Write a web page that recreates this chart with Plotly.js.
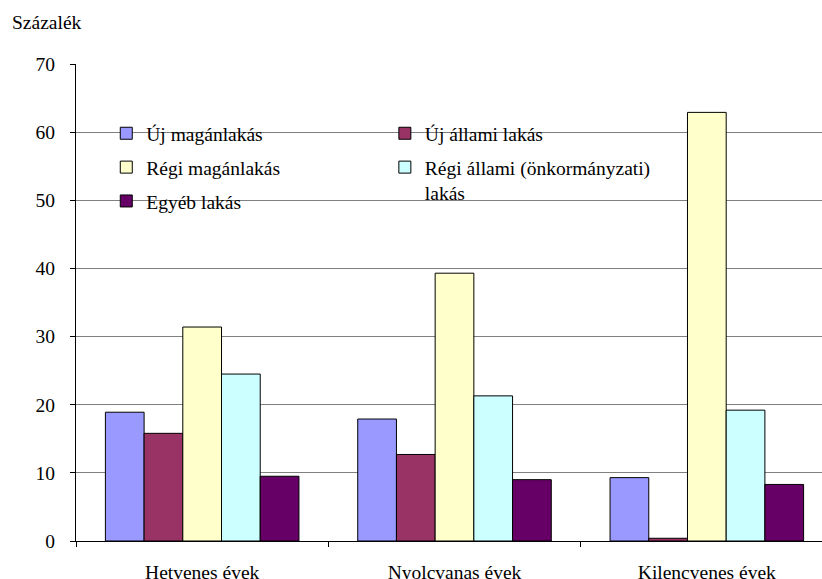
<!DOCTYPE html>
<html>
<head>
<meta charset="utf-8">
<script src="https://cdn.plot.ly/plotly-3.0.1.min.js"></script>
<style>
html,body{margin:0;padding:0;overflow:hidden;background:#fff}
#chart{width:840px;height:579px}
</style>
</head>
<body>
<div id="chart"></div>
<script>
const categories = ["Hetvenes évek", "Nyolcvanas évek", "Kilencvenes évek"];
const seriesNames = ["Új magánlakás", "Új állami lakás", "Régi magánlakás", "Régi állami (önkormányzati)<br>lakás", "Egyéb lakás"];
const ujMagan = [18.9, 17.9, 9.3];
const ujAllami = [15.8, 12.7, 0.4];
const regiMagan = [31.4, 39.3, 62.9];
const regiAllami = [24.5, 21.3, 19.2];
const egyeb = [9.5, 9.0, 8.3];
const yTicks = [0, 10, 20, 30, 40, 50, 60, 70];

const colors = ["#9999FF", "#993366", "#FFFFCC", "#CCFFFF", "#660066"];
const values = [ujMagan, ujAllami, regiMagan, regiAllami, egyeb];
const legendIds = ["legend", "legend2", "legend", "legend2", "legend"];

const FONT = "Liberation Serif, Times New Roman, serif";
const traces = values.map((v, i) => ({
  type: "bar",
  name: seriesNames[i],
  x: categories,
  y: v,
  legend: legendIds[i],
  legendgroup: "g" + i,
  marker: {color: colors[i], line: {color: "#000", width: 1}},
  hoverinfo: "skip"
}));

const legendCommon = {
  font: {family: FONT, size: 19.5, color: "#000"},
  bgcolor: "rgba(0,0,0,0)",
  orientation: "v",
  xanchor: "left",
  yanchor: "top",
  valign: "top",
  tracegroupgap: 5.5,
  traceorder: "grouped",
  itemclick: false
};

const layout = {
  width: 840,
  height: 579,
  margin: {l: 76, r: 7, t: 64, b: 38},
  paper_bgcolor: "#fff",
  plot_bgcolor: "#fff",
  barmode: "group",
  bargap: 0.233,
  bargroupgap: 0,
  font: {family: FONT, size: 19.5, color: "#000"},
  showlegend: true,
  legend: Object.assign({}, legendCommon, {x: 0.04, y: 0.895}),
  legend2: Object.assign({}, legendCommon, {x: 0.408, y: 0.895}),
  xaxis: {
    type: "category",
    showline: true,
    linecolor: "#000",
    linewidth: 1,
    ticks: "outside",
    tickson: "boundaries",
    ticklen: 5,
    tickcolor: "#000",
    showgrid: false,
    tickfont: {family: FONT, size: 19.5, color: "#000"},
    ticklabelstandoff: 14
  },
  yaxis: {
    range: [0, 70],
    tickvals: yTicks,
    ticktext: yTicks.map(String),
    showline: true,
    linecolor: "#000",
    linewidth: 1,
    ticks: "outside",
    ticklen: 5,
    tickcolor: "#000",
    showgrid: true,
    gridcolor: "#808080",
    gridwidth: 1,
    zeroline: false,
    tickfont: {family: FONT, size: 19.5, color: "#000"},
    ticklabelstandoff: 11
  },
  annotations: [{
    text: "Százalék",
    xref: "paper", yref: "paper",
    x: -0.087, y: 1.088,
    xanchor: "left", yanchor: "middle",
    showarrow: false,
    font: {family: FONT, size: 19.5, color: "#000"}
  }]
};

Plotly.newPlot("chart", traces, layout, {displayModeBar: false, staticPlot: true});
</script>
</body>
</html>
